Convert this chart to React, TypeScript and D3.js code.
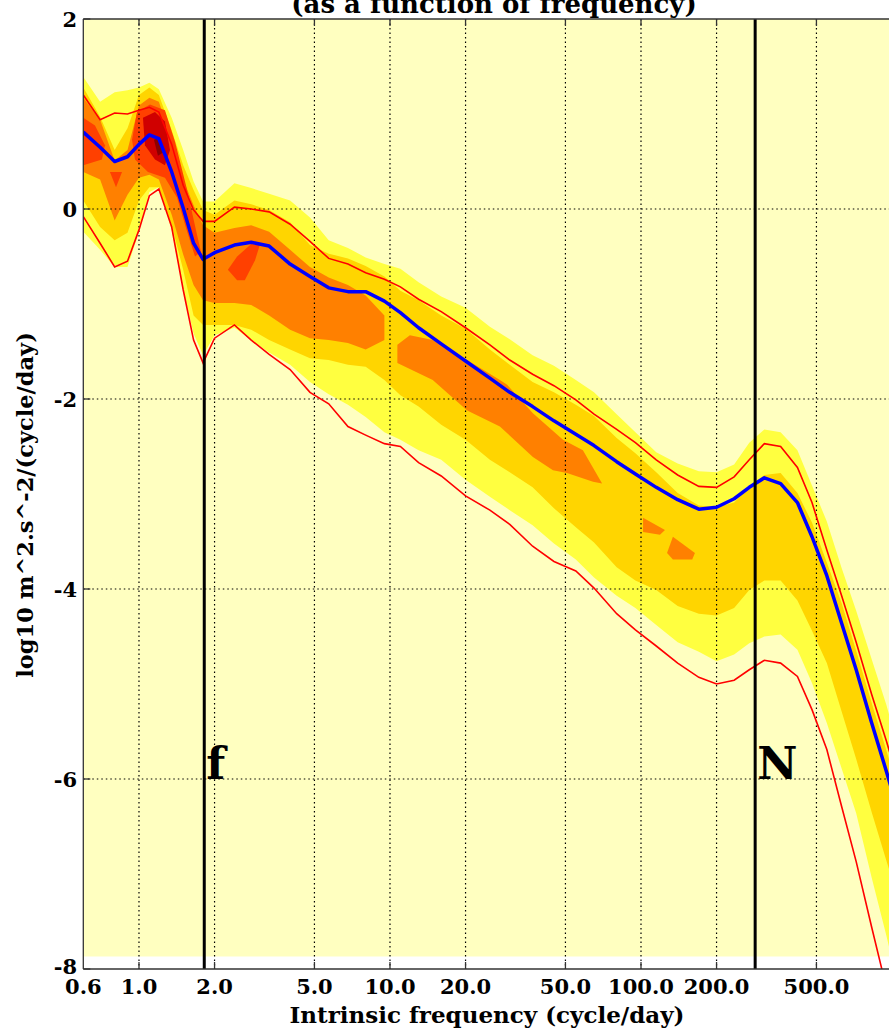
import React from 'react';
import * as d3 from 'd3';

// frequency nodes (cycle/day) at which the bands and curves were read
const freqs = [0.6, 0.7, 0.8, 0.9, 1.0, 1.1, 1.2, 1.35, 1.5, 1.65, 1.8, 2.0, 2.4, 2.8, 3.3, 4.0, 4.8, 5.7, 6.8, 8.0,
  9.5, 11, 13, 16, 20, 25, 30, 37, 45, 55, 65, 80, 95, 115, 140, 170, 200, 235, 270, 310,
  360, 420, 480, 550, 630, 720, 830, 950, 1000];

// blue median curve
const median = [0.81, 0.65, 0.5, 0.55, 0.68, 0.78, 0.74, 0.39, 0.01, -0.36, -0.53, -0.46, -0.38, -0.35, -0.39, -0.58, -0.71, -0.83, -0.87, -0.87,
  -0.97, -1.09, -1.25, -1.42, -1.6, -1.78, -1.93, -2.08, -2.23, -2.37, -2.49, -2.66, -2.79, -2.93, -3.06, -3.16, -3.14, -3.05, -2.93, -2.83,
  -2.89, -3.09, -3.45, -3.86, -4.36, -4.85, -5.41, -5.92, -6.12];

// red upper / lower curves
const upperRed = [1.2, 0.94, 1.01, 1.0, 1.04, 1.07, 1.02, 0.68, 0.25, -0.01, -0.13, -0.13, 0.02, 0.0, -0.03, -0.16, -0.34, -0.52, -0.58, -0.67,
  -0.74, -0.82, -0.95, -1.08, -1.25, -1.43, -1.59, -1.74, -1.86, -2.01, -2.16, -2.32, -2.46, -2.64, -2.8, -2.92, -2.93, -2.82, -2.64, -2.47,
  -2.5, -2.72, -3.09, -3.59, -4.07, -4.56, -5.11, -5.6, -5.8];
const lowerRed = [-0.08, -0.36, -0.61, -0.55, -0.22, 0.14, 0.21, -0.19, -0.85, -1.38, -1.62, -1.36, -1.22, -1.38, -1.53, -1.69, -1.93, -2.05, -2.29, -2.38,
  -2.47, -2.5, -2.67, -2.81, -3.02, -3.17, -3.32, -3.55, -3.71, -3.81, -3.99, -4.26, -4.43, -4.6, -4.78, -4.93, -5.0, -4.96, -4.85, -4.75,
  -4.78, -4.92, -5.27, -5.69, -6.29, -6.87, -7.56, -8.2, -8.5];

// outer contour (yellow)
const yellowHi = [1.39, 1.13, 1.23, 1.25, 1.28, 1.33, 1.26, 0.96, 0.62, 0.29, 0.08, 0.08, 0.27, 0.22, 0.16, 0.09, -0.09, -0.33, -0.41, -0.51,
  -0.58, -0.63, -0.77, -0.92, -1.04, -1.24, -1.37, -1.54, -1.65, -1.8, -1.93, -2.16, -2.35, -2.56, -2.68, -2.76, -2.77, -2.69, -2.46, -2.32,
  -2.35, -2.54, -2.91, -3.29, -3.78, -4.23, -4.74, -5.22, -5.43];
const yellowLo = [-0.24, -0.43, -0.61, -0.61, -0.24, 0.18, 0.23, -0.22, -0.85, -1.31, -1.54, -1.33, -1.25, -1.38, -1.51, -1.64, -1.82, -1.95, -2.06, -2.19,
  -2.35, -2.43, -2.54, -2.64, -2.85, -3.03, -3.17, -3.33, -3.52, -3.69, -3.88, -4.07, -4.2, -4.38, -4.56, -4.66, -4.76, -4.69, -4.57, -4.5,
  -4.48, -4.64, -4.99, -5.41, -5.89, -6.36, -7.04, -7.65, -7.9];

// second contour (gold)
const goldHi = [1.28, 0.97, 0.62, 0.85, 1.2, 1.28, 1.2, 0.83, 0.46, 0.2, -0.01, -0.06, 0.09, 0.05, -0.01, -0.14, -0.38, -0.47, -0.52, -0.6,
  -0.71, -0.86, -0.96, -1.12, -1.26, -1.48, -1.64, -1.82, -1.93, -2.06, -2.18, -2.41, -2.57, -2.77, -2.99, -3.12, -3.14, -3.09, -2.93, -2.8,
  -2.78, -2.99, -3.3, -3.72, -4.15, -4.65, -5.2, -5.7, -5.9];
const goldLo = [0.09, -0.19, -0.33, -0.25, 0.09, 0.23, 0.23, -0.17, -0.64, -1.12, -1.22, -1.22, -1.22, -1.27, -1.38, -1.48, -1.57, -1.59, -1.64, -1.66,
  -1.8, -1.96, -2.08, -2.27, -2.43, -2.64, -2.77, -2.93, -3.15, -3.35, -3.51, -3.77, -3.91, -4.01, -4.18, -4.26, -4.28, -4.2, -4.01, -3.91,
  -3.91, -4.12, -4.44, -4.78, -5.29, -5.79, -6.35, -6.86, -7.05];

// third contour (orange), main low-frequency piece
const orangeFreqs = [0.6, 0.7, 0.8, 0.9, 1.0, 1.1, 1.2, 1.35, 1.5, 1.65, 1.8, 2.0, 2.4, 2.8, 3.3, 4.0, 4.8, 5.7, 6.8, 8.0, 9.5];
const orangeHi = [1.17, 0.94, 0.51, 0.62, 1.09, 1.17, 1.13, 0.73, 0.31, 0.04, -0.17, -0.25, -0.2, -0.17, -0.24, -0.43, -0.61, -0.72, -0.8, -0.91, -1.12];
const orangeLo = [0.39, 0.31, -0.12, 0.15, 0.33, 0.36, 0.31, -0.06, -0.48, -0.8, -0.96, -0.99, -0.99, -1.01, -1.12, -1.27, -1.36, -1.38, -1.41, -1.48, -1.38];

// other orange pieces [freq, log10]
const orangeMid: [number, number][] = [[10.7, -1.43], [12.0, -1.33], [14.8, -1.38], [20.3, -1.59], [27.4, -1.8], [29.3, -1.85], [37.1, -2.15],
  [48.9, -2.43], [58.7, -2.54], [70, -2.89], [64.4, -2.87], [50.7, -2.78], [44.6, -2.75], [37.1, -2.61], [27.4, -2.29],
  [20.3, -2.12], [14.8, -1.8], [10.7, -1.62]];
const orangeIsleA: [number, number][] = [[101.9, -3.25], [124.6, -3.38], [119, -3.43], [101.9, -3.4]];
const orangeIsleB: [number, number][] = [[134, -3.45], [164, -3.62], [160, -3.69], [134, -3.69], [127, -3.62]];

// fourth contour (red-orange)
const redLeft: [number, number][] = [[0.6, 0.96], [0.668, 0.88], [0.732, 0.67], [0.712, 0.52], [0.6, 0.46]];
const redPeak: [number, number][] = [[0.938, 0.73], [0.982, 1.02], [1.106, 1.1], [1.269, 1.04], [1.391, 0.71], [1.539, 0.25], [1.703, -0.27],
  [1.766, -0.45], [1.672, -0.5], [1.539, -0.2], [1.417, 0.12], [1.269, 0.33], [1.086, 0.39], [0.964, 0.52]];
const redSpot: [number, number][] = [[0.766, 0.39], [0.856, 0.39], [0.81, 0.23]];
const redBlob: [number, number][] = [[2.26, -0.64], [2.46, -0.5], [2.82, -0.36], [3.03, -0.38], [2.9, -0.54], [2.64, -0.75], [2.46, -0.75]];

// fifth and sixth contours
const darkRed: [number, number][] = [[1.037, 0.96], [1.158, 1.02], [1.269, 0.92], [1.329, 0.62], [1.269, 0.46], [1.158, 0.52], [1.056, 0.67]];
const darkest: [number, number][] = [[1.147, 0.73], [1.212, 0.75], [1.258, 0.6], [1.19, 0.56]];

const xTicks = [0.6, 1, 2, 5, 10, 20, 50, 100, 200, 500];
const xTickLabels = ['0.6', '1.0', '2.0', '5.0', '10.0', '20.0', '50.0', '100.0', '200.0', '500.0'];
const yTicks = [2, 0, -2, -4, -6, -8];
const fFreq = 1.82;
const nFreq = 285;

const font = 'DejaVu Serif';

export default function App() {
  const x = d3.scaleLog().domain([0.6, 1000]).range([83.3, 892]);
  const y = d3.scaleLinear().domain([-8, 2]).range([969, 19]);

  const band = (fx: number[], lo: number[], hi: number[]) =>
    d3.area<number>()
      .x(d => x(d))
      .y0((_, i) => y(lo[i]))
      .y1((_, i) => y(hi[i]))(fx) || '';

  const poly = (pts: [number, number][]) =>
    d3.line<[number, number]>().x(d => x(d[0])).y(d => y(d[1])).curve(d3.curveLinearClosed)(pts) || '';

  const curve = (vals: number[]) =>
    d3.line<number>().x((_, i) => x(freqs[i])).y(d => y(d))(vals) || '';

  const x0 = x(0.6), x1 = x(1000), yTop = y(2), yBot = y(-8);
  const bgBottom = y(-7.87);

  return (
    <svg width={889} height={1034} style={{ position: 'absolute', left: 0, top: 0, background: '#fff' }}>
      <defs>
        <clipPath id="plotClip">
          <rect x={x0} y={yTop} width={x1 - x0} height={yBot - yTop} />
        </clipPath>
        <clipPath id="bgClip">
          <rect x={x0} y={yTop} width={x1 - x0} height={bgBottom - yTop} />
        </clipPath>
      </defs>

      <text x={494} y={13} textAnchor="middle" fontFamily={font} fontWeight="bold" fontSize={26}>
        (as a function of frequency)
      </text>

      <g clipPath="url(#bgClip)">
        <rect x={x0} y={yTop} width={x1 - x0} height={bgBottom - yTop} fill="#ffffc0" />
        <path d={band(freqs, yellowLo, yellowHi)} fill="#ffff40" />
        <path d={band(freqs, goldLo, goldHi)} fill="#ffd500" />
        <path d={band(orangeFreqs, orangeLo, orangeHi)} fill="#ff8000" />
        {[orangeMid, orangeIsleA, orangeIsleB].map((p, i) => (
          <path key={'o' + i} d={poly(p)} fill="#ff8000" />
        ))}
        {[redLeft, redPeak, redSpot, redBlob].map((p, i) => (
          <path key={'r' + i} d={poly(p)} fill="#ff4000" />
        ))}
        <path d={poly(darkRed)} fill="#d00000" />
        <path d={poly(darkest)} fill="#8b0000" />
      </g>

      <g clipPath="url(#plotClip)">
        {xTicks.slice(1).map(t => (
          <line key={'gx' + t} x1={x(t)} x2={x(t)} y1={yTop} y2={yBot}
            stroke="#000" strokeWidth={1.2} strokeDasharray="1.5,3" />
        ))}
        {yTicks.slice(1, -1).map(t => (
          <line key={'gy' + t} x1={x0} x2={x1} y1={y(t)} y2={y(t)}
            stroke="#000" strokeWidth={1.2} strokeDasharray="1.5,3" />
        ))}
        <path d={curve(upperRed)} fill="none" stroke="#ff0000" strokeWidth={1.6} />
        <path d={curve(lowerRed)} fill="none" stroke="#ff0000" strokeWidth={1.6} />
        <path d={curve(median)} fill="none" stroke="#0000ff" strokeWidth={3.5} strokeLinejoin="round" />
        <line x1={x(fFreq)} x2={x(fFreq)} y1={yTop} y2={yBot} stroke="#000" strokeWidth={3} />
        <line x1={x(nFreq)} x2={x(nFreq)} y1={yTop} y2={yBot} stroke="#000" strokeWidth={3} />
      </g>

      <text x={x(fFreq) + 2} y={y(-6)} fontFamily={font} fontWeight="bold" fontSize={44}>f</text>
      <text x={x(nFreq) + 2} y={y(-6)} fontFamily={font} fontWeight="bold" fontSize={44}>N</text>

      {/* axes frame and ticks */}
      <g stroke="#333" strokeWidth={1.3} fill="none">
        <line x1={x0} x2={x1} y1={yTop} y2={yTop} />
        <line x1={x0} x2={x1} y1={yBot} y2={yBot} />
        <line x1={x0} x2={x0} y1={yTop} y2={yBot} />
        {xTicks.slice(1).map(t => (
          <g key={'tx' + t}>
            <line x1={x(t)} x2={x(t)} y1={yBot} y2={yBot - 7} />
            <line x1={x(t)} x2={x(t)} y1={yTop} y2={yTop + 7} />
          </g>
        ))}
        {yTicks.map(t => (
          <line key={'ty' + t} x1={x0} x2={x0 + 7} y1={y(t)} y2={y(t)} />
        ))}
      </g>

      <g fontFamily={font} fontWeight="bold" fill="#000">
        {xTicks.map((t, i) => (
          <text key={'lx' + t} x={x(t)} y={994} fontSize={21} textAnchor="middle">{xTickLabels[i]}</text>
        ))}
        {yTicks.map(t => (
          <text key={'ly' + t} x={77} y={y(t) - (t === -8 ? 3 : 0)} dy="0.36em" fontSize={21} textAnchor="end">{String(t)}</text>
        ))}
        <text x={487} y={1023} fontSize={23} textAnchor="middle">Intrinsic frequency (cycle/day)</text>
        <text transform={`translate(33,505) rotate(-90)`} fontSize={22.5} textAnchor="middle">log10 m^2.s^-2/(cycle/day)</text>
      </g>
    </svg>
  );
}
